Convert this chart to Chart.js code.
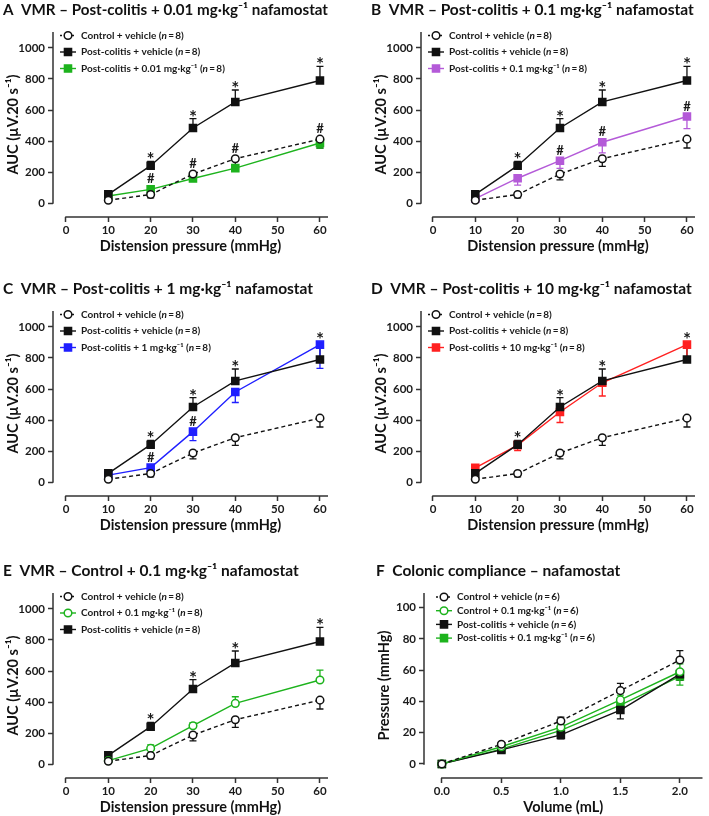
<!DOCTYPE html>
<html>
<head>
<meta charset="utf-8">
<script src="https://cdn.jsdelivr.net/npm/chart.js@4/dist/chart.umd.min.js"></script>
<style>
  html, body { margin: 0; padding: 0; background: #fff; }
  #fig { position: relative; width: 709px; height: 816px; overflow: hidden; }
  .panel { position: absolute; }
</style>
</head>
<body>
<div id="fig">
  <div class="panel" style="left:0;top:0"><canvas id="chartA" width="355" height="255"></canvas></div>
  <div class="panel" style="left:355px;top:0"><canvas id="chartB" width="354" height="255"></canvas></div>
  <div class="panel" style="left:0;top:279px"><canvas id="chartC" width="355" height="255"></canvas></div>
  <div class="panel" style="left:355px;top:279px"><canvas id="chartD" width="354" height="255"></canvas></div>
  <div class="panel" style="left:0;top:561px"><canvas id="chartE" width="355" height="255"></canvas></div>
  <div class="panel" style="left:355px;top:561px"><canvas id="chartF" width="354" height="255"></canvas></div>
</div>
<script>
// VMR panels: distension pressure (mmHg) and AUC ticks
const pressures = [10, 20, 30, 40, 60];
const pressureTicks = [0, 10, 20, 30, 40, 50, 60];
const aucTicks = [0, 200, 400, 600, 800, 1000];

// AUC means and SEM (µV.20 s-1)
const ctlVeh = [18, 55, 187, 286, 412];
const ctlVehSem = [8, 22, 37, 49, 57];
const pcVeh = [56, 241, 484, 652, 790];
const pcVehSem = [10, 27, 60, 77, 91];
const pc001 = [45, 88, 158, 225, 387];
const pc001Sem = [8, 14, 14, 16, 32];
const pc01 = [28, 160, 273, 392, 558];
const pc01Sem = [10, 45, 50, 68, 78];
const pc1 = [45, 93, 325, 581, 886];
const pc1Sem = [8, 30, 58, 68, 153];
const pc10 = [92, 238, 452, 640, 886];
const pc10Sem = [10, 36, 68, 85, 95];
const ctl01 = [22, 101, 247, 391, 542];
const ctl01Sem = [8, 22, 20, 43, 64];

// significance marks (* vs control + vehicle, # vs post-colitis + vehicle)
const starsVmr = ['', '*', '*', '*', '*'];
const hashA = ['', '#', '#', '#', '#'];
const hashB = ['', '', '#', '#', '#'];
const hashC = ['', '#', '#', '', ''];

// colonic compliance: volume (mL) vs pressure (mmHg)
const volumes = [0, 0.5, 1.0, 1.5, 2.0];
const volumeTicks = [0, 0.5, 1.0, 1.5, 2.0];
const mmHgTicks = [0, 20, 40, 60, 80, 100];
const cmpCtlVeh = [0, 12.6, 27.5, 46.9, 66.5];
const cmpCtlVehSem = [0.5, 1, 2.5, 4.7, 6];
const cmpCtl01 = [0, 11, 23.5, 41, 59];
const cmpCtl01Sem = [0.5, 1, 2, 3, 5];
const cmpPcVeh = [0, 9, 18.6, 34.5, 57.5];
const cmpPcVehSem = [0.5, 1, 2.6, 5.7, 4];
const cmpPc01 = [0, 9.5, 21.5, 37.7, 56];
const cmpPc01Sem = [0.5, 1, 2, 3, 5.5];

const GREEN = '#1db31d';
const PURPLE = '#b45ad8';
const BLUE = '#1f1fff';
const RED = '#ff2020';
const BLACK = '#111';
const AXIS_COLOR = '#333';
const TEXT_COLOR = '#1a1a1a';
const FONT = 'Lato, "Open Sans", sans-serif';

function series(label, xs, ys, sem, semDir, color, open, dashed) {
  return {
    label: label,
    data: xs.map((x, i) => ({ x: x, y: ys[i] })),
    sem: sem,
    semDir: semDir,
    borderColor: color,
    backgroundColor: color,
    borderWidth: 1.4,
    borderDash: dashed ? [4, 3] : [],
    pointStyle: open ? 'circle' : 'rect',
    pointRadius: open ? 3.8 : 5,
    pointBackgroundColor: open ? '#fff' : color,
    pointBorderColor: color,
    pointBorderWidth: 1.5,
    tension: 0,
    fill: false
  };
}

function drawMarker(ctx, d, x, y) {
  ctx.save();
  ctx.lineWidth = d.pointBorderWidth;
  ctx.strokeStyle = d.pointBorderColor;
  ctx.fillStyle = d.pointBackgroundColor;
  ctx.beginPath();
  if (d.pointStyle === 'circle') {
    ctx.arc(x, y, d.pointRadius, 0, Math.PI * 2);
  } else {
    const h = d.pointRadius * Math.SQRT1_2;
    ctx.rect(x - h, y - h, 2 * h, 2 * h);
  }
  ctx.fill();
  ctx.stroke();
  ctx.restore();
}

// offset (GraphPad style) axis lines
const axisLines = {
  id: 'axisLines',
  beforeDatasetsDraw(chart) {
    const { ctx, chartArea: a, scales: { x, y } } = chart;
    ctx.save();
    ctx.strokeStyle = AXIS_COLOR;
    ctx.lineWidth = 1.5;
    ctx.beginPath();
    ctx.moveTo(a.left, y.getPixelForValue(0) + 0.75);
    ctx.lineTo(a.left, a.top);
    ctx.moveTo(x.getPixelForValue(0) - 0.75, a.bottom);
    ctx.lineTo(a.right, a.bottom);
    ctx.stroke();
    ctx.restore();
  }
};

// one-sided SEM bars
const errorBars = {
  id: 'errorBars',
  beforeDatasetsDraw(chart) {
    const { ctx, scales: { y } } = chart;
    chart.data.datasets.forEach((d, di) => {
      const meta = chart.getDatasetMeta(di);
      ctx.save();
      ctx.strokeStyle = d.borderColor;
      ctx.lineWidth = 1.3;
      meta.data.forEach((pt, i) => {
        const yEnd = y.getPixelForValue(d.data[i].y + d.semDir * d.sem[i]);
        ctx.beginPath();
        ctx.moveTo(pt.x, pt.y);
        ctx.lineTo(pt.x, yEnd);
        ctx.moveTo(pt.x - 3.5, yEnd);
        ctx.lineTo(pt.x + 3.5, yEnd);
        ctx.stroke();
      });
      ctx.restore();
    });
  }
};

function sigMarks(stars, hashes) {
  return {
    id: 'sigMarks',
    afterDatasetsDraw(chart) {
      const { ctx, scales: { x, y } } = chart;
      const sets = chart.data.datasets;
      // highest pixel reached by a marker or an upward SEM bar
      const topPx = (d, i) => d.semDir > 0
        ? Math.min(y.getPixelForValue(d.data[i].y + d.sem[i]), y.getPixelForValue(d.data[i].y) - 4)
        : y.getPixelForValue(d.data[i].y) - 4;
      ctx.save();
      ctx.fillStyle = TEXT_COLOR;
      ctx.textAlign = 'center';
      ctx.textBaseline = 'alphabetic';
      sets[0].data.forEach((p, i) => {
        const px = x.getPixelForValue(p.x);
        if (stars && stars[i]) {
          const top = Math.min(...sets.map(d => topPx(d, i)));
          ctx.font = 'bold 19px ' + FONT;
          ctx.fillText(stars[i], px, top + 5);
        }
        if (hashes && hashes[i]) {
          const top = Math.max(...sets.filter(d => !d.reference).map(d => d.data[i].y));
          ctx.font = 'bold 13px ' + FONT;
          ctx.fillText(hashes[i], px, y.getPixelForValue(top) - 6);
        }
      });
      ctx.restore();
    }
  };
}

function insetLegend(cfg) {
  return {
    id: 'insetLegend',
    afterDraw(chart) {
      const { ctx, chartArea } = chart;
      chart.data.datasets.forEach((d, i) => {
        const cy = chartArea.top + cfg.top + i * cfg.gap;
        const mx = chartArea.left + cfg.marker;
        ctx.save();
        ctx.strokeStyle = d.borderColor;
        ctx.lineWidth = 1.4;
        ctx.setLineDash(d.borderDash.length ? [2, 2] : []);
        ctx.beginPath();
        ctx.moveTo(mx - 8, cy);
        ctx.lineTo(mx + 8, cy);
        ctx.stroke();
        ctx.setLineDash([]);
        drawMarker(ctx, d, mx, cy);
        let tx = chartArea.left + cfg.text;
        ctx.fillStyle = TEXT_COLOR;
        ctx.textBaseline = 'middle';
        ctx.textAlign = 'left';
        const m = d.label.match(/^(.*\()n(.*)$/);
        const parts = m ? [[m[1], false], ['n', true], [m[2], false]] : [[d.label, false]];
        parts.forEach(([t, it]) => {
          ctx.font = (it ? 'italic ' : '') + 'bold ' + cfg.size + 'px ' + FONT;
          ctx.fillText(t, tx, cy);
          tx += ctx.measureText(t).width;
        });
        ctx.restore();
      });
    }
  };
}

function makeChart(id, p) {
  const tickFont = { family: FONT, weight: 'bold', size: 11.5 };
  const titleFont = { family: FONT, weight: 'bold', size: 14.5 };
  return new Chart(document.getElementById(id), {
    type: 'line',
    data: { datasets: p.datasets },
    options: {
      responsive: false,
      animation: false,
      events: [],
      layout: { padding: { left: p.padLeft, right: p.padRight, top: 0, bottom: 0 } },
      plugins: {
        legend: { display: false },
        tooltip: { enabled: false },
        title: {
          display: true,
          text: p.title,
          align: 'start',
          color: '#111',
          font: { family: FONT, weight: 'bold', size: 15.5 },
          padding: { top: 1, bottom: 12.4 }
        }
      },
      scales: {
        x: {
          type: 'linear',
          min: p.xMin,
          max: p.xMax,
          afterBuildTicks: s => { s.ticks = p.xTicks.map(v => ({ value: v })); },
          afterFit: s => { s.height = 38; },
          border: { display: false },
          grid: { drawOnChartArea: false, drawTicks: true, tickLength: 5, tickWidth: 1.5, tickColor: AXIS_COLOR },
          ticks: {
            font: tickFont, color: TEXT_COLOR, padding: 1, maxRotation: 0, autoSkip: false,
            callback: p.xFmt || (v => String(v))
          },
          title: { display: true, text: p.xTitle, font: titleFont, color: '#111', padding: { top: 0, bottom: 0 } }
        },
        y: {
          type: 'linear',
          min: p.yMin,
          max: p.yMax,
          afterBuildTicks: s => { s.ticks = p.yTicks.map(v => ({ value: v })); },
          afterFit: s => { s.width = p.yWidth; },
          border: { display: false },
          grid: { drawOnChartArea: false, drawTicks: true, tickLength: 5, tickWidth: 1.5, tickColor: AXIS_COLOR },
          ticks: { font: tickFont, color: TEXT_COLOR, padding: 3, autoSkip: false, callback: v => String(v) },
          title: { display: true, text: p.yTitle, font: titleFont, color: '#111', padding: { top: p.yTitlePad, bottom: 0 } }
        }
      }
    },
    plugins: [axisLines, errorBars, sigMarks(p.stars, p.hashes), insetLegend(p.legend)]
  });
}

const AUC_TITLE = 'AUC (µV.20 s⁻¹)';
const DIST_TITLE = 'Distension pressure (mmHg)';
const leftVmr = { padLeft: 3, padRight: 27, yWidth: 50, xMin: -3.07, xMax: 61.9, yMin: -90, yMax: 1103, yTitlePad: 1.2 };
const rightVmr = { padLeft: 16, padRight: 14, yWidth: 50, xMin: -2.83, xMax: 61.9, yMin: -90, yMax: 1103, yTitlePad: 1.2 };
const vmrLegend = { top: 3.5, gap: 16.5, marker: 15, text: 28, size: 10 };

function vmrPanel(id, side, title, datasets, stars, hashes) {
  makeChart(id, Object.assign({}, side, {
    title: title, datasets: datasets, stars: stars, hashes: hashes,
    xTicks: pressureTicks, yTicks: aucTicks, xTitle: DIST_TITLE, yTitle: AUC_TITLE,
    legend: vmrLegend
  }));
}

const controlVehicle = () => series('Control + vehicle (n\u2009=\u20098)', pressures, ctlVeh, ctlVehSem, -1, BLACK, true, true);
const colitisVehicle = () => Object.assign(series('Post-colitis + vehicle (n\u2009=\u20098)', pressures, pcVeh, pcVehSem, 1, BLACK, false, false), { reference: true });

vmrPanel('chartA', leftVmr, 'A  VMR – Post-colitis + 0.01 mg·kg⁻¹ nafamostat', [
  controlVehicle(),
  colitisVehicle(),
  series('Post-colitis + 0.01 mg·kg⁻¹ (n\u2009=\u20098)', pressures, pc001, pc001Sem, -1, GREEN, false, false)
], starsVmr, hashA);

vmrPanel('chartB', rightVmr, 'B  VMR – Post-colitis + 0.1 mg·kg⁻¹ nafamostat', [
  controlVehicle(),
  colitisVehicle(),
  series('Post-colitis + 0.1 mg·kg⁻¹ (n\u2009=\u20098)', pressures, pc01, pc01Sem, -1, PURPLE, false, false)
], starsVmr, hashB);

vmrPanel('chartC', leftVmr, 'C  VMR – Post-colitis + 1 mg·kg⁻¹ nafamostat', [
  controlVehicle(),
  colitisVehicle(),
  series('Post-colitis + 1 mg·kg⁻¹ (n\u2009=\u20098)', pressures, pc1, pc1Sem, -1, BLUE, false, false)
], starsVmr, hashC);

vmrPanel('chartD', rightVmr, 'D  VMR – Post-colitis + 10 mg·kg⁻¹ nafamostat', [
  controlVehicle(),
  colitisVehicle(),
  series('Post-colitis + 10 mg·kg⁻¹ (n\u2009=\u20098)', pressures, pc10, pc10Sem, -1, RED, false, false)
], starsVmr, null);

vmrPanel('chartE', leftVmr, 'E  VMR – Control + 0.1 mg·kg⁻¹ nafamostat', [
  controlVehicle(),
  series('Control + 0.1 mg·kg⁻¹ (n\u2009=\u20098)', pressures, ctl01, ctl01Sem, 1, GREEN, true, false),
  colitisVehicle()
], starsVmr, null);

makeChart('chartF', {
  title: 'F  Colonic compliance – nafamostat',
  padLeft: 21, padRight: 4, yWidth: 48, yTitlePad: 0,
  xMin: -0.15, xMax: 2.19, yMin: -9, yMax: 109.4,
  xTicks: volumeTicks, yTicks: mmHgTicks,
  xFmt: v => Number(v).toFixed(1),
  xTitle: 'Volume (mL)', yTitle: 'Pressure (mmHg)',
  legend: { top: 4, gap: 13.7, marker: 20, text: 33, size: 10 },
  stars: null, hashes: null,
  datasets: [
    series('Control + vehicle (n\u2009=\u20096)', volumes, cmpCtlVeh, cmpCtlVehSem, 1, BLACK, true, true),
    series('Control + 0.1 mg·kg⁻¹ (n\u2009=\u20096)', volumes, cmpCtl01, cmpCtl01Sem, 1, GREEN, true, false),
    series('Post-colitis + vehicle (n\u2009=\u20096)', volumes, cmpPcVeh, cmpPcVehSem, -1, BLACK, false, false),
    series('Post-colitis + 0.1 mg·kg⁻¹ (n\u2009=\u20096)', volumes, cmpPc01, cmpPc01Sem, -1, GREEN, false, false)
  ]
});
</script>
</body>
</html>
